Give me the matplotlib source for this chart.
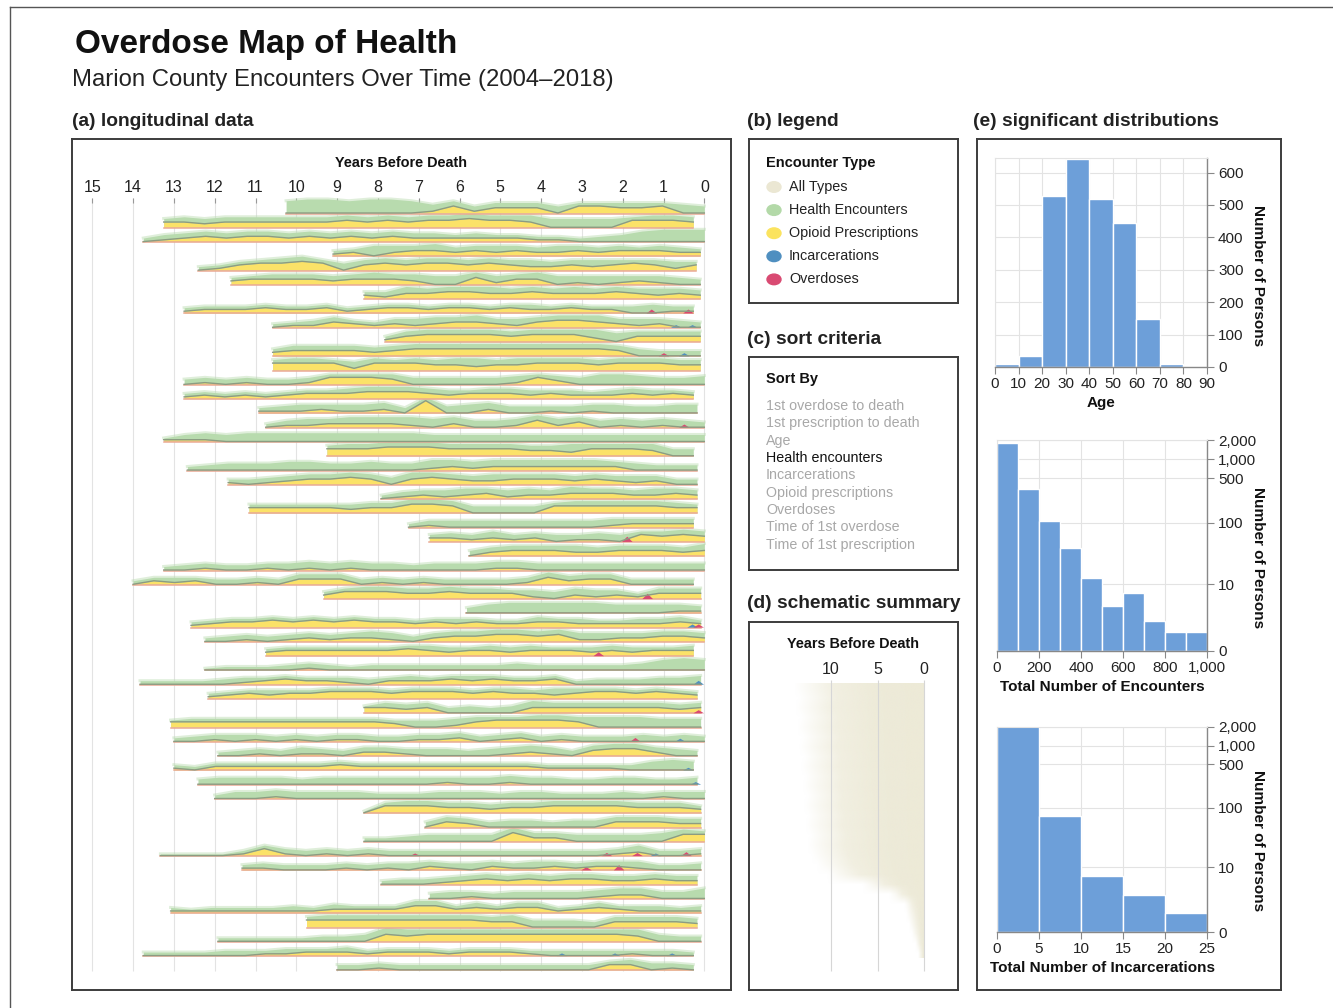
import numpy as np
import matplotlib.pyplot as plt
from matplotlib.ticker import FixedLocator, NullLocator

plt.rcParams['font.family'] = ['Liberation Sans', 'DejaVu Sans']

# ---- longitudinal streams: one entry per person, years before death ----
row_start = [10.25, 13.25, 13.75, 9.1, 12.4, 11.6, 8.34, 12.75, 10.58, 7.83,
             10.58, 10.58, 12.75, 12.75, 10.92, 10.75, 13.25, 9.25, 12.67, 11.67,
             7.92, 11.16, 7.25, 6.74, 5.76, 13.25, 14.0, 9.33, 5.83, 12.58,
             12.24, 10.75, 12.24, 13.83, 12.16, 8.34, 13.08, 13.0, 11.92, 13.0,
             12.41, 12.0, 8.34, 6.84, 8.34, 13.33, 11.33, 7.92, 6.74, 13.08,
             9.75, 11.92, 13.75, 9.0]
row_end = [0.0, 0.27, 0.0, 0.1, 0.2, 0.1, 0.1, 0.27, 0.1, 0.1,
           0.1, 0.1, 0.0, 0.27, 0.18, 0.0, 0.0, 0.27, 0.18, 0.18,
           0.18, 0.18, 0.27, 0.0, 0.0, 0.0, 0.27, 0.09, 0.09, 0.09,
           0.0, 0.27, 0.0, 0.09, 0.18, 0.09, 0.09, 0.0, 0.18, 0.27,
           0.18, 0.0, 0.09, 0.09, 0.0, 0.09, 0.09, 0.18, 0.0, 0.09,
           0.18, 0.09, 0.27, 0.27]
# each token: health-encounter thickness, opioid-prescription thickness
row_profile = [
    "70 80 80 70 80 80 70 41 34 31 33 33 33 40 24 24 33 33 24 50 40",
    "23 33 32 33 33 33 33 33 33 34 33 34 33 34 34 35 34 34 43 50 50 50 50 24 34 34 33",
    "20 31 32 33 32 33 33 32 33 32 33 32 33 32 32 22 32 22 22 21 21 20 30 40 60 70 70 70",
    "21 22 60 42 33 43 32 33 42 33 32 42 33 32 33 23 33 32 22",
    "20 21 23 24 34 35 24 40 33 34 33 34 34 33 34 33 42 32 33 42 33 24 33 41 23",
    "22 23 33 33 33 32 33 43 33 42 50 50 34 41 33 43 50 41 50 41 32 41 40 30",
    "22 31 43 33 34 34 43 33 34 33 43 33 34 33 42 33 32",
    "21 22 22 22 23 22 22 23 21 22 23 23 22 23 23 22 23 32 22 23 22 22 40 50 31 31",
    "20 21 31 33 22 21 32 41 42 33 43 32 41 33 34 34 43 32 41 32 40 30",
    "21 33 34 34 34 34 33 34 34 34 52 50 33 33 33 33",
    "22 33 33 33 33 32 33 34 34 34 34 34 34 34 34 34 34 33 40 30 30 30",
    "24 34 34 24 41 34 24 34 33 43 52 33 43 34 34 34 33 34 34 34 33 33",
    "30 31 30 31 30 30 31 24 24 24 33 40 40 40 40 40 41 24 32 40 60 60 50 40 40 50",
    "21 22 21 22 21 22 23 23 33 34 34 34 33 32 23 33 33 32 23 32 22 32 33 32 23 22",
    "21 31 41 32 41 41 42 30 27 40 50 42 40 40 31 40 41 50 40 40 50 50",
    "20 31 41 32 42 42 42 51 50 42 40 40 41 34 41 33 40 41 40 41 40 30",
    "11 31 41 40 50 50 50 50 50 50 50 50 50 40 40 40 40 40 40 40 40 40 40 40 40 40 40",
    "24 34 34 35 35 35 34 34 34 34 33 33 52 34 34 34 43 40 40",
    "20 30 40 40 40 50 50 40 40 50 40 40 51 42 41 42 42 42 42 42 42 32 40 30 30 30",
    "21 30 31 32 33 33 34 33 40 43 34 33 32 42 33 33 33 32 33 32 41 32 30 30",
    "20 31 32 41 42 33 41 42 32 43 33 33 32 42 33 32",
    "23 23 23 23 23 32 33 33 35 35 34 40 40 40 40 24 34 34 34 34 34 33 23",
    "20 31 40 40 40 40 40 40 40 40 41 32 32 32 32",
    "22 32 31 42 31 32 40 31 41 40 24 33 34 33",
    "30 32 33 33 33 42 32 33 33 33 32 43",
    "20 30 31 30 30 31 40 41 40 41 40 40 30 40 40 40 41 41 40 40 40 40 40 40 40 40 40",
    "20 22 31 22 30 30 31 30 33 33 33 30 31 30 31 30 30 30 30 31 34 32 33 33 30 30 30 30",
    "22 24 34 34 33 33 34 33 33 23 41 40 42 41 32 21 33 33 33",
    "30 50 60 60 60 60 60 50 50 50 41 31",
    "21 22 23 23 24 23 24 23 24 23 23 22 23 32 23 22 22 33 23 32 22 22 32 32 33 22",
    "20 30 31 30 31 32 31 32 42 41 30 32 33 33 34 34 33 34 41 41 32 32 33 33 32",
    "22 23 23 23 23 23 23 24 33 32 23 33 32 33 23 23 32 33 32 23 23 33",
    "10 20 20 20 30 31 30 20 30 30 30 30 30 30 30 40 30 30 30 30 30 40 60 70 60",
    "20 20 20 20 30 31 22 23 22 22 31 30 22 32 22 23 32 23 22 22 23 20 30 30 30 40 40 50",
    "21 22 23 32 23 23 24 24 24 23 24 24 24 23 24 33 23 42 33 24 24 23 24 23 22",
    "13 33 32 33 30 40 30 40 43 33 33 33 33 33 33 32 33",
    "13 23 23 23 23 23 23 23 23 23 23 22 40 40 41 33 24 24 34 34 33 60 60 60 50 50 50",
    "20 30 31 40 31 30 31 30 31 31 30 30 31 31 32 30 31 32 30 31 30 30 30 40 30 40 30",
    "20 30 31 30 41 31 30 32 32 31 40 40 30 40 41 42 41 30 33 34 34 32 40 30",
    "21 20 22 22 22 22 22 22 23 22 22 22 22 22 22 22 22 22 21 21 21 21 30 50 60 50",
    "30 40 40 40 40 30 40 40 40 40 40 40 31 40 40 41 40 40 30 30 40 40 30 30 40",
    "20 40 40 41 40 40 40 40 30 30 30 40 40 40 30 40 40 30 30 30 40 30 31 40 40",
    "10 24 34 34 33 33 32 33 33 34 34 34 34 33 33 33 22",
    "30 33 32 30 40 40 30 40 40 33 33 33 32 32",
    "20 20 30 40 40 40 40 35 32 32 40 40 40 40 50 34 24",
    "10 10 10 10 21 24 31 30 31 30 31 30 30 30 30 30 30 30 30 30 30 30 31 42 30 30 31",
    "21 31 30 30 30 31 30 31 40 32 31 40 32 31 41 32 31 32 32 41 30 30 40",
    "20 30 30 31 32 33 32 33 32 33 33 32 32 33 32 32",
    "30 40 31 30 40 40 40 40 41 42 42 40 40 60",
    "21 11 21 21 21 21 31 21 32 22 22 22 34 34 22 33 22 33 33 21 22 33 22 31 31 21 31",
    "24 34 34 34 34 34 34 34 34 33 43 40 40 40 30 33 33 33 33 32",
    "20 20 20 20 20 30 30 40 44 43 34 34 34 34 34 34 34 34 34 34 43 40 30 30",
    "20 20 20 20 30 30 21 31 22 22 32 21 22 22 22 21 22 22 22 21 30 30 30 30 21 30 30 20",
    "30 30 31 30 30 30 30 30 30 30 30 30 30 23 33 40 31 30",
]
# overdoses (o) and incarcerations (i) at the base of a stream
event_row = [7, 7, 8, 8, 10, 10, 15, 23, 27, 29, 29, 31, 33, 35, 37, 37, 39, 40,
             45, 45, 45, 45, 45, 46, 46, 52, 52, 52]
event_year = [1.3, 0.4, 0.7, 0.3, 1.0, 0.5, 0.5, 1.9, 1.4, 0.3, 0.15, 2.6, 0.15, 0.15,
              1.7, 0.6, 0.4, 0.22, 7.1, 2.4, 1.65, 1.2, 0.45, 2.9, 2.1, 3.5, 2.2, 0.8]
event_kind = ['o', 'o', 'i', 'i', 'o', 'i', 'o', 'o', 'o', 'i', 'o', 'o', 'i', 'o',
              'o', 'i', 'i', 'i', 'o', 'o', 'o', 'i', 'o', 'o', 'o', 'i', 'i', 'i']
event_size = [1.5, 1.5, 1.0, 1.0, 1.2, 1.2, 1.2, 2.0, 2.0, 1.2, 1.2, 1.5, 1.5, 1.2,
              1.5, 1.2, 1.0, 1.0, 1.0, 1.2, 1.2, 1.0, 1.5, 1.2, 2.0, 1.0, 1.0, 1.0]

legend_labels = ['All Types', 'Health Encounters', 'Opioid Prescriptions',
                 'Incarcerations', 'Overdoses']
legend_colors = ['#ebe7d3', '#b3d9a8', '#fbe35e', '#4f8fc0', '#d94a72']

sort_options = ['1st overdose to death', '1st prescription to death', 'Age',
                'Health encounters', 'Incarcerations', 'Opioid prescriptions',
                'Overdoses', 'Time of 1st overdose', 'Time of 1st prescription']
sort_selected = 'Health encounters'

# schematic summary: record length (years) per band of persons,
# where coverage is full, mostly full, thin, and gone
summary_solid = [5.4, 5.1, 5.3, 5.0, 5.2, 4.9, 5.1, 4.8, 5.0, 4.7, 4.9, 4.6, 4.8, 4.5,
                 4.7, 4.4, 4.6, 4.3, 4.1, 3.8, 2.8, 1.5, 0.7, 0.5, 0.35, 0.25, 0.15, 0.08]
summary_most = [9.6, 9.3, 9.7, 9.2, 9.5, 9.0, 9.4, 8.9, 9.2, 8.8, 9.0, 8.7, 8.9, 8.5,
                8.7, 8.3, 8.5, 8.1, 7.6, 6.8, 4.2, 2.3, 1.2, 0.9, 0.7, 0.55, 0.4, 0.2]
summary_thin = [12.2, 11.8, 12.1, 11.7, 12.0, 11.5, 11.9, 11.4, 11.7, 11.3, 11.5, 11.1,
                11.4, 11.0, 11.2, 10.8, 11.0, 10.6, 10.0, 9.0, 5.6, 3.0, 1.7, 1.5,
                1.25, 1.0, 0.7, 0.45]
summary_tail = [13.9, 13.5, 13.8, 13.3, 13.6, 13.1, 13.4, 12.9, 13.2, 12.8, 13.0, 12.6,
                12.9, 12.5, 12.7, 12.3, 12.5, 12.1, 11.5, 10.4, 6.6, 3.7, 2.1, 1.9,
                1.6, 1.3, 0.9, 0.6]

# distributions
age_edges = [0, 10, 20, 30, 40, 50, 60, 70, 80, 90]
age_counts = [8, 35, 527, 642, 518, 443, 148, 10, 2]
enc_edges = [0, 100, 200, 300, 400, 500, 600, 700, 800, 900, 1000]
enc_counts = [1790, 339, 108, 40, 13, 4, 7, 2, 1, 1]
inc_edges = [0, 5, 10, 15, 20, 25]
inc_counts = [2130, 73, 7, 3, 1]

W, H = 1333, 1008
fig = plt.figure(figsize=(W / 100, H / 100), dpi=100)

BOX = '#3c3c3c'
GRID = '#e3e3e3'
GREEN, YELLOW = '#b8dbae', '#fbe268'
RED, BLUE = '#d94a72', '#4f8fc0'
BAR = '#6d9fd9'


def rect(x0, y0, x1, y1):
    return [x0 / W, 1 - y1 / H, (x1 - x0) / W, (y1 - y0) / H]


def ftext(x, y, s, **kw):
    kw.setdefault('va', 'center')
    fig.text(x / W, 1 - y / H, s, **kw)


def box(x0, y0, x1, y1):
    ax = fig.add_axes(rect(x0, y0, x1, y1))
    ax.set_xticks([])
    ax.set_yticks([])
    for sp in ax.spines.values():
        sp.set_color(BOX)
        sp.set_linewidth(1.4)
    ax.patch.set_alpha(0)
    return ax


# outer frame
fig.add_artist(plt.Line2D([10 / W, 1], [1 - 7 / H, 1 - 7 / H], color='#555', lw=1))
fig.add_artist(plt.Line2D([10 / W, 10 / W], [0, 1 - 7 / H], color='#555', lw=1))

ftext(75, 45, 'Overdose Map of Health', fontsize=24, fontweight='bold', color='#111')
ftext(72, 80, 'Marion County Encounters Over Time (2004\u20132018)', fontsize=17.2, color='#222')

for x, y, s in [(72, 121, '(a) longitudinal data'), (747, 121, '(b) legend'),
                (747, 339, '(c) sort criteria'), (747, 604, '(d) schematic summary'),
                (973, 121, '(e) significant distributions')]:
    ftext(x, y, s, fontsize=13.8, fontweight='bold', color='#222')

# ---- (a) longitudinal data ----
ax = box(72, 139, 731, 990)
ax.set_xlim(15.4975, -0.654)
ax.set_ylim(990, 139)
years = np.arange(16)
ax.vlines(years, 198, 971, color=GRID, lw=0.8, zorder=0)
ax.vlines(years, 198, 203, color='#999', lw=0.8, zorder=0)
for v in years:
    ax.text(v, 187, str(v), ha='center', va='center', fontsize=11.5, color='#222')
ax.text(7.43, 163, 'Years Before Death', ha='center', va='center', fontsize=10.4,
        fontweight='bold', color='#111')

unit = 1.75
row_gap = 14.28
for i, prof in enumerate(row_profile):
    tok = prof.split()
    g = np.array([int(t[0]) for t in tok]) * unit
    y = np.array([int(t[1]) for t in tok]) * unit
    t = np.linspace(row_start[i], row_end[i], len(tok))
    base = 213 + i * row_gap
    ax.fill_between(t, base, base - y - g, color=GREEN, lw=0, zorder=2)
    ax.plot(t, base - y - g, color=GREEN, lw=2.2, alpha=0.45, zorder=2)
    ax.fill_between(t, base, base - y, color=YELLOW, lw=0, zorder=3)
    ax.plot(t, np.full_like(t, base + 0.5), color='#eaa994', lw=1.1, zorder=4)
    ax.plot(t, base - y, color='#8c9c82', lw=1.0, zorder=5)

for r, yr, k, s in zip(event_row, event_year, event_kind, event_size):
    base = 213 + r * row_gap
    xs = np.array([yr + 0.13, yr, yr - 0.13])
    ax.fill_between(xs, base, base - np.array([0, s, 0]) * unit * 1.5,
                    color=RED if k == 'o' else BLUE, lw=0, zorder=4)

# ---- (b) legend ----
box(749, 139, 958, 303)
ftext(766, 163, 'Encounter Type', fontsize=10.5, fontweight='bold', color='#111')
for k, (lab, col) in enumerate(zip(legend_labels, legend_colors)):
    yy = 187 + k * 23.1
    fig.add_artist(plt.Circle((774 / W, 1 - yy / H), 7 / W, color=col,
                              transform=fig.transFigure))
    ftext(789, yy, lab, fontsize=10.4, color='#222')

# ---- (c) sort criteria ----
box(749, 357, 958, 570)
ftext(766, 379, 'Sort By', fontsize=10.5, fontweight='bold', color='#111')
for k, opt in enumerate(sort_options):
    ftext(766, 406 + k * 17.35, opt, fontsize=10.3,
          color='#111' if opt == sort_selected else '#a8a8a8')

# ---- (d) schematic summary ----
ax = box(749, 622, 958, 990)
x_lo, x_hi = (924 - 749) / 9.3, (924 - 958) / 9.3
grid_x = np.linspace(0, 14.5, 500)
alpha = np.array([np.interp(grid_x, [0, s, m, th, t], [1, 0.95, 0.75, 0.3, 0])
                  for s, m, th, t in zip(summary_solid, summary_most, summary_thin,
                                         summary_tail)])
img = np.zeros(alpha.shape + (4,))
img[..., :3] = np.array([237, 234, 215]) / 255
img[..., 3] = alpha
ax.imshow(img, extent=(0, 14.5, 958, 683), aspect='auto', interpolation='bilinear', zorder=1)
ax.set_xlim(x_lo, x_hi)
ax.set_ylim(990, 622)
ax.vlines([10, 5, 0], 680, 971, color='#d6d6d6', lw=0.8, zorder=2)
for v in [10, 5, 0]:
    ax.text(v, 669, str(v), ha='center', va='center', fontsize=11.5, color='#222')
ax.text((853 - 924) / -9.3, 644, 'Years Before Death', ha='center', va='center',
        fontsize=10.4, fontweight='bold', color='#111')

# ---- (e) significant distributions ----
box(977, 139, 1281, 990)


def fwd(v):
    return np.sign(v) * np.log1p(np.abs(v))


def inv(v):
    return np.sign(v) * np.expm1(np.abs(v))


def hist(r, edges, counts, xticks, xlabels, ylim, yticks, title, ylab_y, log=False):
    ax = fig.add_axes(rect(*r))
    edges = np.array(edges)
    ax.bar(edges[:-1], counts, width=np.diff(edges), align='edge', color=BAR,
           edgecolor='white', lw=1, zorder=2)
    if log:
        ax.set_yscale('function', functions=(fwd, inv))
    ax.set_xlim(edges[0], edges[-1])
    ax.set_ylim(*ylim)
    ax.xaxis.set_major_locator(FixedLocator(xticks))
    ax.set_xticklabels(xlabels)
    ax.yaxis.set_major_locator(FixedLocator(yticks))
    ax.yaxis.set_minor_locator(NullLocator())
    ax.set_yticklabels(['{:,}'.format(v) for v in yticks])
    ax.grid(True, color=GRID, lw=0.8, zorder=0)
    ax.set_axisbelow(True)
    ax.tick_params(axis='y', left=False, right=True, labelleft=False, labelright=True,
                   length=5, color='#888', labelsize=11, labelcolor='#222', pad=3)
    ax.tick_params(axis='x', length=5, color='#888', labelsize=11, labelcolor='#222', pad=2)
    for k in ['top', 'left']:
        ax.spines[k].set_color(GRID)
        ax.spines[k].set_linewidth(0.8)
    for k in ['bottom', 'right']:
        ax.spines[k].set_color('#888')
        ax.spines[k].set_linewidth(1)
    ax.set_xlabel(title, fontsize=11, fontweight='bold', color='#111', labelpad=4)
    ftext(1258, ylab_y, 'Number of Persons', fontsize=11, fontweight='bold', color='#111',
          rotation=270, ha='center')
    return ax


hist((995, 158, 1207, 367), age_edges, age_counts, age_edges,
     [str(v) for v in age_edges], (0, 645), [0, 100, 200, 300, 400, 500, 600], 'Age', 276)
hist((997, 440, 1207, 651), enc_edges, enc_counts, [0, 200, 400, 600, 800, 1000],
     ['0', '200', '400', '600', '800', '1,000'], (0, 2000), [0, 10, 100, 500, 1000, 2000],
     'Total Number of Encounters', 558, log=True)
hist((997, 727, 1207, 932), inc_edges, inc_counts, inc_edges,
     [str(v) for v in inc_edges], (0, 2000), [0, 10, 100, 500, 1000, 2000],
     'Total Number of Incarcerations', 841, log=True)

fig.savefig('out.png', dpi=100)
